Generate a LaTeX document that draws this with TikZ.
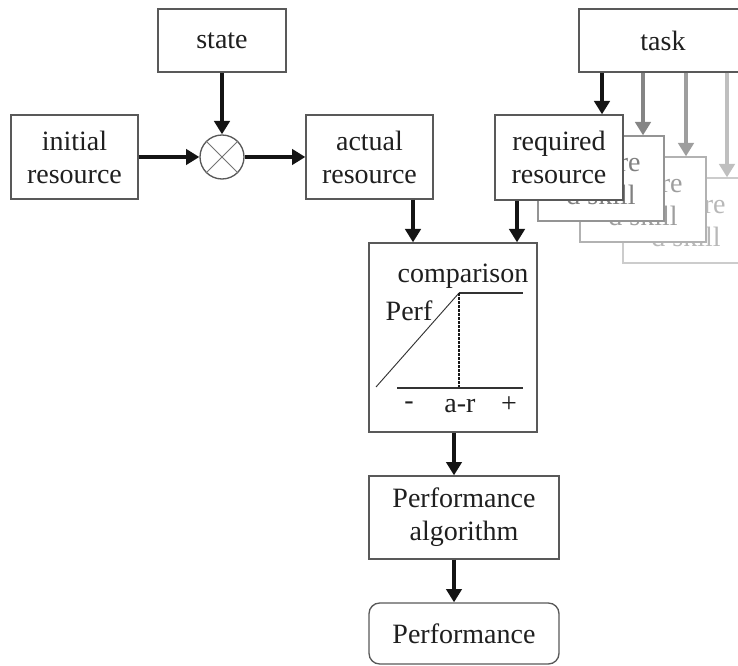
\documentclass[tikz,border=0pt]{standalone}
\usepackage{fontspec}
\setmainfont{Liberation Serif}
\usetikzlibrary{arrows.meta}
\definecolor{txt}{gray}{0.12}
\definecolor{bord}{gray}{0.35}
\tikzset{
  box/.style={draw=bord, line width=1pt, fill=white, text=txt, align=center, inner sep=0pt,
    font=\fontsize{21pt}{24.7pt}\selectfont},
  lbl/.style={text=txt, inner sep=0pt, font=\fontsize{21pt}{24.7pt}\selectfont},
  arr/.style={line width=2.8pt, draw=black!92, -{Triangle[length=10pt,width=11.5pt]}},
  ghostA/.style={box, draw=black!42, text=black!50},
  ghostB/.style={box, draw=black!30, text=black!38},
  ghostC/.style={box, draw=black!20, text=black!28},
}
\begin{document}
\begin{tikzpicture}[x=0.75pt,y=-0.75pt]
\useasboundingbox (0,0) rectangle (738,666);
\clip (0,0) rectangle (738,666);

% top row
\node[box, minimum width=96pt, minimum height=47.25pt] (state) at (222,40.5) {state};
\node[box, minimum width=95.25pt, minimum height=63pt] (init) at (74.5,157) {initial\\resource};
\node[box, minimum width=95.25pt, minimum height=63pt] (actual) at (369.5,157) {actual\\resource};
\node[draw=bord, line width=1pt, fill=white, circle, minimum size=33pt, inner sep=0pt] (mix) at (222,157) {};
\draw[black!55, line width=0.6pt] (mix.north west) -- (mix.south east);
\draw[black!55, line width=0.6pt] (mix.north east) -- (mix.south west);

% task and stacked skill boxes
\node[box, minimum width=126pt, minimum height=47.25pt] (task) at (663,40.5) {task};
\node[ghostC, minimum width=94.5pt, minimum height=63.75pt] (g3) at (686,220.5) {\phantom{requi}re\\d skill};
\node[ghostB, minimum width=94.5pt, minimum height=63.75pt] (g2) at (643,199.5) {\phantom{requi}re\\d skill};
\node[ghostA, minimum width=94.5pt, minimum height=63.75pt] (g1) at (601,178.5) {\phantom{requi}re\\d skill};
\node[box, minimum width=96pt, minimum height=63.75pt] (req) at (559,157.5) {required\\resource};

\coordinate (xt) at (602,0);
\coordinate (x1) at (643,0);
\coordinate (x2) at (686,0);
\coordinate (x3) at (727,0);
\draw[arr] (xt |- task.south) -- (xt |- req.north);
\draw[arr, draw=black!48] (x1 |- task.south) -- (x1 |- g1.north);
\draw[arr, draw=black!38] (x2 |- task.south) -- (x2 |- g2.north);
\draw[arr, draw=black!25] (x3 |- task.south) -- (x3 |- g3.north);

% comparison
\node[box, minimum width=126pt, minimum height=141.75pt] (cmp) at (453,337.5) {};
\node[lbl] (cmptxt) at (463,276) {comparison};
\draw[black!80, line width=1.2pt] (459,293) -- (523,293);
\draw[black!80, line width=0.7pt] (376,387) -- (459,293);
\draw[black!90, line width=2pt, densely dotted] (459,293) -- (459,388);
\draw[black!80, line width=1.2pt] (397,388) -- (523,388);
\node[lbl] (perf) at (409,311) {Perf};
\node[lbl] (minus) at (409,406) {-};
\node[lbl] (ar) at (460,406) {a-r};
\node[lbl] (plus) at (509,405) {+};

% bottom
\node[box, minimum width=142.5pt, minimum height=62.25pt] (alg) at (464,517.5) {Performance\\algorithm};
\node[box, rounded corners=8pt, minimum width=142.5pt, minimum height=45.75pt] (out) at (464,633.5) {Performance};

% connectors
\draw[arr] (state) -- (mix);
\draw[arr] (init) -- (mix);
\draw[arr] (mix) -- (actual);
\coordinate (xa) at (413,0);
\coordinate (xr) at (517,0);
\coordinate (xc) at (454,0);
\draw[arr] (xa |- actual.south) -- (xa |- cmp.north);
\draw[arr] (xr |- req.south) -- (xr |- cmp.north);
\draw[arr] (xc |- cmp.south) -- (xc |- alg.north);
\draw[arr] (xc |- alg.south) -- (xc |- out.north);
\end{tikzpicture}
\end{document}
